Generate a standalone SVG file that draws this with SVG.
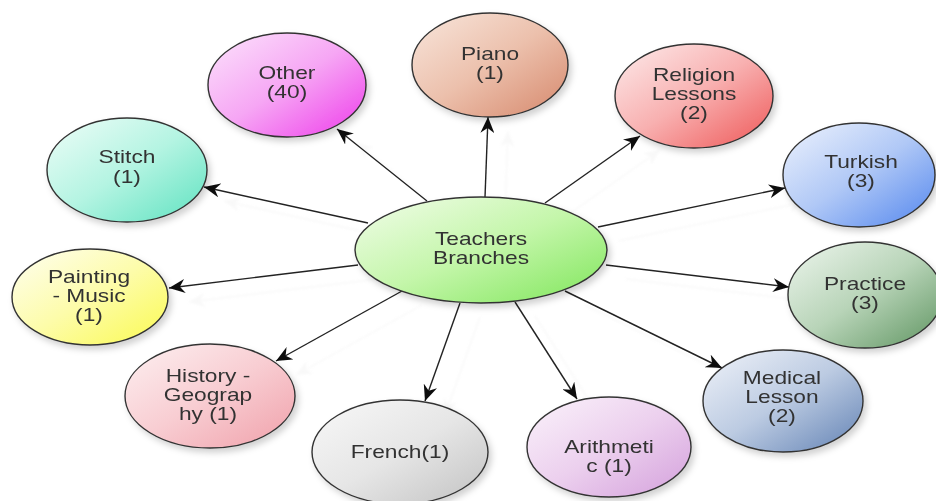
<svg xmlns="http://www.w3.org/2000/svg" width="936" height="501" viewBox="0 0 936 501">
<defs>
<style>
.nd{stroke:#333;stroke-width:1.4}
.lb{font-family:"Liberation Sans",Arial,sans-serif;font-size:17.5px;fill:#333;text-anchor:middle}
.cn{stroke:#222;stroke-width:1.4;fill:none;marker-end:url(#ah)}
</style>
<marker id="ah" markerUnits="userSpaceOnUse" markerWidth="18" markerHeight="14" refX="16" refY="7" orient="auto" viewBox="0 0 18 14">
<path d="M0,0 L16,7 L0,14 L5,7 z" fill="#111"/>
</marker>
<filter id="sh" x="-20%" y="-20%" width="150%" height="150%">
<feDropShadow dx="3" dy="4" stdDeviation="3" flood-color="#000" flood-opacity="0.18"/>
</filter>
<filter id="csh" x="-10%" y="-10%" width="130%" height="130%">
<feOffset in="SourceAlpha" dx="20" dy="14" result="o"/>
<feGaussianBlur in="o" stdDeviation="1.2" result="b"/>
<feColorMatrix in="b" type="matrix" values="0 0 0 0 0.6  0 0 0 0 0.6  0 0 0 0 0.6  0 0 0 0.12 0" result="c"/>
<feMerge><feMergeNode in="c"/><feMergeNode in="SourceGraphic"/></feMerge>
</filter>
<linearGradient id="gC" x1="0" y1="0" x2="1" y2="1"><stop offset="0" stop-color="#f2fdea"/><stop offset="0.5" stop-color="#c4f6aa"/><stop offset="1" stop-color="#7fe65a"/></linearGradient>
<linearGradient id="gPiano" x1="0" y1="0" x2="1" y2="1"><stop offset="0" stop-color="#f8e6dc"/><stop offset="0.5" stop-color="#ecc0ac"/><stop offset="1" stop-color="#d6886c"/></linearGradient>
<linearGradient id="gOther" x1="0" y1="0" x2="1" y2="1"><stop offset="0" stop-color="#fce4fc"/><stop offset="0.5" stop-color="#f6a6f4"/><stop offset="1" stop-color="#ee3aea"/></linearGradient>
<linearGradient id="gStitch" x1="0" y1="0" x2="1" y2="1"><stop offset="0" stop-color="#effdf8"/><stop offset="0.5" stop-color="#b4f4e2"/><stop offset="1" stop-color="#5ee2c0"/></linearGradient>
<linearGradient id="gRel" x1="0" y1="0" x2="1" y2="1"><stop offset="0" stop-color="#fdecec"/><stop offset="0.5" stop-color="#f8b0b0"/><stop offset="1" stop-color="#ee5656"/></linearGradient>
<linearGradient id="gTurk" x1="0" y1="0" x2="1" y2="1"><stop offset="0" stop-color="#eef3fd"/><stop offset="0.5" stop-color="#b0c8f6"/><stop offset="1" stop-color="#5286ee"/></linearGradient>
<linearGradient id="gPrac" x1="0" y1="0" x2="1" y2="1"><stop offset="0" stop-color="#eef6ee"/><stop offset="0.5" stop-color="#b8d4b8"/><stop offset="1" stop-color="#5e9460"/></linearGradient>
<linearGradient id="gMed" x1="0" y1="0" x2="1" y2="1"><stop offset="0" stop-color="#f0f3f9"/><stop offset="0.5" stop-color="#bccbe2"/><stop offset="1" stop-color="#6282b4"/></linearGradient>
<linearGradient id="gAri" x1="0" y1="0" x2="1" y2="1"><stop offset="0" stop-color="#fbf3fb"/><stop offset="0.5" stop-color="#ecd0ee"/><stop offset="1" stop-color="#d4a0dc"/></linearGradient>
<linearGradient id="gFr" x1="0" y1="0" x2="1" y2="1"><stop offset="0" stop-color="#f8f8f8"/><stop offset="0.5" stop-color="#e6e6e6"/><stop offset="1" stop-color="#c2c2c2"/></linearGradient>
<linearGradient id="gHis" x1="0" y1="0" x2="1" y2="1"><stop offset="0" stop-color="#fdf0f1"/><stop offset="0.5" stop-color="#f8cdd2"/><stop offset="1" stop-color="#f0a0aa"/></linearGradient>
<linearGradient id="gPaint" x1="0" y1="0" x2="1" y2="1"><stop offset="0" stop-color="#fefef2"/><stop offset="0.5" stop-color="#fdfcaa"/><stop offset="1" stop-color="#fafa50"/></linearGradient>
</defs>
<rect width="936" height="501" fill="#ffffff"/>

<g id="connectors" filter="url(#csh)">
<line class="cn" x1="485" y1="197" x2="488" y2="117"/>
<line class="cn" x1="545" y1="203" x2="640" y2="136"/>
<line class="cn" x1="598" y1="227" x2="785" y2="188"/>
<line class="cn" x1="606" y1="265" x2="789" y2="287"/>
<line class="cn" x1="565" y1="291" x2="722" y2="368"/>
<line class="cn" x1="515" y1="302" x2="577" y2="399"/>
<line class="cn" x1="460" y1="303" x2="425" y2="401"/>
<line class="cn" x1="402" y1="291" x2="276" y2="361"/>
<line class="cn" x1="358" y1="265" x2="169" y2="288"/>
<line class="cn" x1="368" y1="223" x2="204" y2="187"/>
<line class="cn" x1="427" y1="201" x2="337" y2="129"/>
</g>

<g id="n-center" filter="url(#sh)">
<ellipse class="nd" cx="481" cy="250" rx="126" ry="53" fill="url(#gC)"/>
<text class="lb" transform="translate(481 0) scale(1.3 1)"><tspan x="0" y="245">Teachers</tspan><tspan x="0" y="264">Branches</tspan></text>
</g>
<g id="n-piano" filter="url(#sh)">
<ellipse class="nd" cx="490" cy="65" rx="78" ry="52" fill="url(#gPiano)"/>
<text class="lb" transform="translate(490 0) scale(1.3 1)"><tspan x="0" y="60">Piano</tspan><tspan x="0" y="79">(1)</tspan></text>
</g>
<g id="n-other" filter="url(#sh)">
<ellipse class="nd" cx="287" cy="85" rx="79" ry="52" fill="url(#gOther)"/>
<text class="lb" transform="translate(287 0) scale(1.3 1)"><tspan x="0" y="79">Other</tspan><tspan x="0" y="98">(40)</tspan></text>
</g>
<g id="n-stitch" filter="url(#sh)">
<ellipse class="nd" cx="127" cy="170" rx="80" ry="52" fill="url(#gStitch)"/>
<text class="lb" transform="translate(127 0) scale(1.3 1)"><tspan x="0" y="163">Stitch</tspan><tspan x="0" y="183">(1)</tspan></text>
</g>
<g id="n-religion" filter="url(#sh)">
<ellipse class="nd" cx="694" cy="96" rx="79" ry="52" fill="url(#gRel)"/>
<text class="lb" transform="translate(694 0) scale(1.3 1)"><tspan x="0" y="81">Religion</tspan><tspan x="0" y="100">Lessons</tspan><tspan x="0" y="119">(2)</tspan></text>
</g>
<g id="n-turkish" filter="url(#sh)">
<ellipse class="nd" cx="859" cy="175" rx="76" ry="52" fill="url(#gTurk)"/>
<text class="lb" transform="translate(861 0) scale(1.3 1)"><tspan x="0" y="168">Turkish</tspan><tspan x="0" y="187">(3)</tspan></text>
</g>
<g id="n-practice" filter="url(#sh)">
<ellipse class="nd" cx="865" cy="295" rx="77" ry="53" fill="url(#gPrac)"/>
<text class="lb" transform="translate(865 0) scale(1.3 1)"><tspan x="0" y="290">Practice</tspan><tspan x="0" y="309">(3)</tspan></text>
</g>
<g id="n-medical" filter="url(#sh)">
<ellipse class="nd" cx="783" cy="401" rx="80" ry="51" fill="url(#gMed)"/>
<text class="lb" transform="translate(782 0) scale(1.3 1)"><tspan x="0" y="384">Medical</tspan><tspan x="0" y="403">Lesson</tspan><tspan x="0" y="422">(2)</tspan></text>
</g>
<g id="n-arithmetic" filter="url(#sh)">
<ellipse class="nd" cx="609" cy="447" rx="82" ry="50" fill="url(#gAri)"/>
<text class="lb" transform="translate(609 0) scale(1.3 1)"><tspan x="0" y="453">Arithmeti</tspan><tspan x="0" y="472">c (1)</tspan></text>
</g>
<g id="n-french" filter="url(#sh)">
<ellipse class="nd" cx="400" cy="452" rx="88" ry="52" fill="url(#gFr)"/>
<text class="lb" transform="translate(400 0) scale(1.3 1)"><tspan x="0" y="458">French(1)</tspan></text>
</g>
<g id="n-history" filter="url(#sh)">
<ellipse class="nd" cx="210" cy="396" rx="85" ry="52" fill="url(#gHis)"/>
<text class="lb" transform="translate(208 0) scale(1.3 1)"><tspan x="0" y="382">History -</tspan><tspan x="0" y="401">Geograp</tspan><tspan x="0" y="420">hy (1)</tspan></text>
</g>
<g id="n-painting" filter="url(#sh)">
<ellipse class="nd" cx="90" cy="297" rx="78" ry="48" fill="url(#gPaint)"/>
<text class="lb" transform="translate(89 0) scale(1.3 1)"><tspan x="0" y="283">Painting</tspan><tspan x="0" y="302">- Music</tspan><tspan x="0" y="321">(1)</tspan></text>
</g>
</svg>
